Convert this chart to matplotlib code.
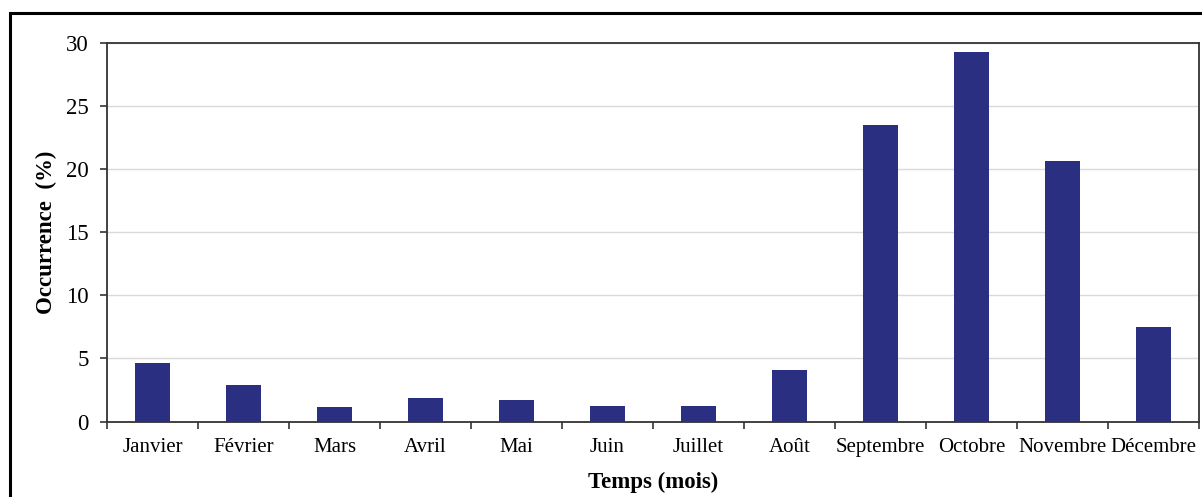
import matplotlib
matplotlib.use("Agg")
import matplotlib.pyplot as plt
from matplotlib.patches import Rectangle
import numpy as np

months = ["Janvier", "Février", "Mars", "Avril", "Mai", "Juin", "Juillet",
          "Août", "Septembre", "Octobre", "Novembre", "Décembre"]
occurrence = [4.6, 2.9, 1.15, 1.9, 1.7, 1.2, 1.2, 4.1, 23.5, 29.3, 20.6, 7.5]
yticks = [0, 5, 10, 15, 20, 25, 30]

plt.rcParams['font.family'] = ['Liberation Serif', 'DejaVu Serif']

fig = plt.figure(figsize=(12.02, 4.97), dpi=100)
ax = fig.add_axes([107/1202, 1-421.5/497, (1199-107)/1202, (421.5-42.7)/497])

x = np.arange(len(months))
ax.bar(x, occurrence, width=0.39, color="#2B2F82", zorder=3)
ax.set_xlim(-0.5, len(months) - 0.5)
ax.set_ylim(0, 30)
ax.set_yticks(yticks)
ax.set_yticklabels([str(v) for v in yticks], fontsize=16.5)
ax.set_xticks(x)
ax.set_xticklabels(months, fontsize=15)
ax.tick_params(axis='x', length=0, pad=12)
ax.set_xticks(np.arange(-0.5, len(months)), minor=True)
ax.tick_params(axis='x', which='minor', length=5, width=1.2, direction='out', color='#333333')
ax.tick_params(axis='y', length=5, width=1.2, direction='out', color='#333333', pad=8)
ax.grid(axis='y', color='#d9d9d9', linewidth=1, zorder=0)
for s in ax.spines.values():
    s.set_color('#333333')
    s.set_linewidth(1.3)

fig.text(46/1202, 1 - 232/497, "Occurrence  (%)", fontsize=16.5, fontweight='bold',
         rotation=90, ha='center', va='center')
fig.text(653/1202, 1 - 482/497, "Temps (mois)", fontsize=16.5, fontweight='bold',
         ha='center', va='center')

frame = Rectangle((10/1202, -0.1), 1.2, 1-13/497 + 0.1, transform=fig.transFigure,
                  fill=False, edgecolor='black', linewidth=2.2, clip_on=False)
fig.patches.append(frame)

fig.savefig("out.png", dpi=100)
